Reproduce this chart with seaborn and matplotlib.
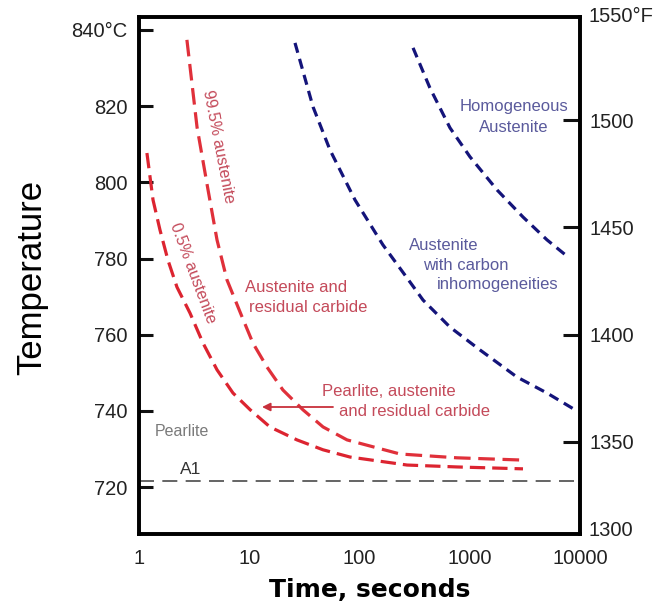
import numpy as np
import pandas as pd
import matplotlib
matplotlib.use("Agg")
import matplotlib.pyplot as plt
import seaborn as sns

# ---- data ----
t_low = [1.18, 1.34, 1.55, 1.83, 2.21, 2.90, 3.81, 5.10, 7.12, 10.2, 15.4, 27.1, 46.7, 82.0, 270, 766, 3040]
T_low = [807.7, 795.4, 787.5, 779.6, 772.5, 765.7, 757.8, 750.8, 744.7, 740.3, 735.8, 732.4, 729.8, 727.9, 725.8, 725.3, 724.8]

t_high = [2.72, 3.36, 4.23, 5.10, 6.28, 8.60, 10.8, 14.5, 20.2, 30.7, 46.7, 77.1, 233, 766, 3040]
T_high = [837.4, 814.5, 798.0, 784.9, 774.4, 764.7, 757.8, 751.5, 745.5, 740.3, 735.8, 732.4, 728.7, 727.7, 727.1]

t_blue1 = [26.0, 37.9, 54.0, 91.0, 163, 270, 377, 662, 1240, 2680, 5020, 9010]
T_blue1 = [836.6, 819.8, 808.5, 795.4, 783.6, 774.9, 769.1, 762.0, 756.0, 748.9, 744.7, 740.3]

t_blue2 = [306, 435, 662, 1005, 1770, 3040, 5020, 7950]
T_blue2 = [835.3, 824.8, 814.3, 806.7, 798.0, 790.9, 784.9, 780.2]

A1_temp = 721.6
x_ticks = [1, 10, 100, 1000, 10000]
x_labels = ["1", "10", "100", "1000", "10000"]
c_ticks = [720, 740, 760, 780, 800, 820, 840]
c_labels = ["720", "740", "760", "780", "800", "820", "840°C"]
f_ticks = [1350, 1400, 1450, 1500]
f_labels = ["1350", "1400", "1450", "1500"]

# ---- style ----
sns.set_theme(style="white")
plt.rcParams["font.family"] = ["Liberation Sans", "DejaVu Sans"]

W, H = 663, 611
fig = plt.figure(figsize=(W / 100, H / 100), dpi=100)
L, R, T, B = 139, 580, 17, 534
ax = fig.add_axes([L / W, 1 - B / H, (R - L) / W, (B - T) / H])


def P(px, py):
    return ((px - L) / (R - L), (B - py) / (B - T))


red = "#dc2430"
red2 = "#e0303a"
navy = "#14147a"

df_low = pd.DataFrame({"t": t_low, "T": T_low})
df_high = pd.DataFrame({"t": t_high, "T": T_high})
df_b1 = pd.DataFrame({"t": t_blue1, "T": T_blue1})
df_b2 = pd.DataFrame({"t": t_blue2, "T": T_blue2})

sns.lineplot(data=df_low, x="t", y="T", ax=ax, color=red, linewidth=2.3,
             linestyle=(0, (4.8, 2.2)), sort=True)
sns.lineplot(data=df_high, x="t", y="T", ax=ax, color=red2, linewidth=2.3,
             linestyle=(0, (5.2, 2.4)), sort=True)
sns.lineplot(data=df_b1, x="t", y="T", ax=ax, color=navy, linewidth=2.3,
             linestyle=(0, (3.2, 2.0)), sort=True)
sns.lineplot(data=df_b2, x="t", y="T", ax=ax, color=navy, linewidth=2.3,
             linestyle=(0, (3.2, 2.0)), sort=True)
ax.axhline(A1_temp, color="#4a4a4a", linewidth=1.2, linestyle=(0, (9, 5)))

ax.set_xscale("log")
ax.set_xlim(1, 10000)
ax.set_ylim(707.7, 843.4)

ax.set_xticks(x_ticks)
ax.set_xticklabels(x_labels)
ax.set_yticks(c_ticks)
ax.set_yticklabels(c_labels)
ax.minorticks_off()
ax.tick_params(axis="y", direction="in", length=10, width=2.2, color="#111",
               labelsize=14.5, pad=8.5, labelcolor="#222")
ax.tick_params(axis="x", direction="in", length=15, width=2.2, color="#111",
               labelsize=14.5, pad=11, labelcolor="#222")

for s in ax.spines.values():
    s.set_visible(True)
    s.set_linewidth(2.6)
    s.set_color("black")

ax.set_xlabel("Time, seconds", fontsize=18, fontweight="bold",
              family="DejaVu Sans", color="black")
ax.xaxis.set_label_coords(0.524, -0.086)
ax.set_ylabel("Temperature", fontsize=25, va="center", color="black")
ax.yaxis.set_label_coords(-0.243, 0.497)

# right Fahrenheit axis
ax2 = ax.twinx()
ax2.set_ylim(1307.1, 1548.0)
ax2.set_yticks(f_ticks)
ax2.set_yticklabels(f_labels)
ax2.tick_params(axis="y", direction="in", length=12, width=2.2, color="#111",
                labelsize=14.5, pad=7, labelcolor="#222")
for s in ax2.spines.values():
    s.set_linewidth(2.6)
    s.set_color("black")
ax2.text(*P(588, 17), "1550°F", transform=ax2.transAxes, ha="left",
         va="center", fontsize=14.5, color="#222")
ax2.text(*P(588, 530), "1300", transform=ax2.transAxes, ha="left",
         va="center", fontsize=14.5, color="#222")

# annotations
tred = "#c44a5a"
tblue = "#5a5a9c"
ax.text(*P(218, 147), "99.5% austenite", transform=ax.transAxes,
        rotation=-79, rotation_mode="anchor", ha="center", va="center",
        fontsize=11.5, color=tred)
ax.text(*P(193, 273), "0.5% austenite", transform=ax.transAxes,
        rotation=-69.5, rotation_mode="anchor", ha="center", va="center",
        fontsize=11.5, color=tred)
ax.text(*P(245, 287), "Austenite and", transform=ax.transAxes,
        ha="left", va="center", fontsize=12, color=tred)
ax.text(*P(249, 307), "residual carbide", transform=ax.transAxes,
        ha="left", va="center", fontsize=12, color=tred)
ax.text(*P(322, 392), "Pearlite, austenite", transform=ax.transAxes,
        ha="left", va="center", fontsize=12, color=tred)
ax.text(*P(339, 412), "and residual carbide", transform=ax.transAxes,
        ha="left", va="center", fontsize=12, color=tred)
ax.annotate("", xy=P(262, 407), xytext=P(333, 407),
            xycoords="axes fraction", textcoords="axes fraction",
            arrowprops=dict(arrowstyle="-|>", color="#c8303c", lw=1.3,
                            mutation_scale=12, shrinkA=0, shrinkB=0))
ax.text(*P(155, 431), "Pearlite", transform=ax.transAxes,
        ha="left", va="center", fontsize=11.5, color="#7a7a7a")
ax.text(*P(180, 470), "A1", transform=ax.transAxes,
        ha="left", va="center", fontsize=12.5, color="#333333")
ax.text(*P(514, 107), "Homogeneous", transform=ax.transAxes,
        ha="center", va="center", fontsize=12, color=tblue)
ax.text(*P(514, 127), "Austenite", transform=ax.transAxes,
        ha="center", va="center", fontsize=12, color=tblue)
ax.text(*P(409, 246), "Austenite", transform=ax.transAxes,
        ha="left", va="center", fontsize=12, color=tblue)
ax.text(*P(423, 265), "with carbon", transform=ax.transAxes,
        ha="left", va="center", fontsize=12, color=tblue)
ax.text(*P(437, 285), "inhomogeneities", transform=ax.transAxes,
        ha="left", va="center", fontsize=12, color=tblue)

fig.savefig("out.png", dpi=100, facecolor="white")
